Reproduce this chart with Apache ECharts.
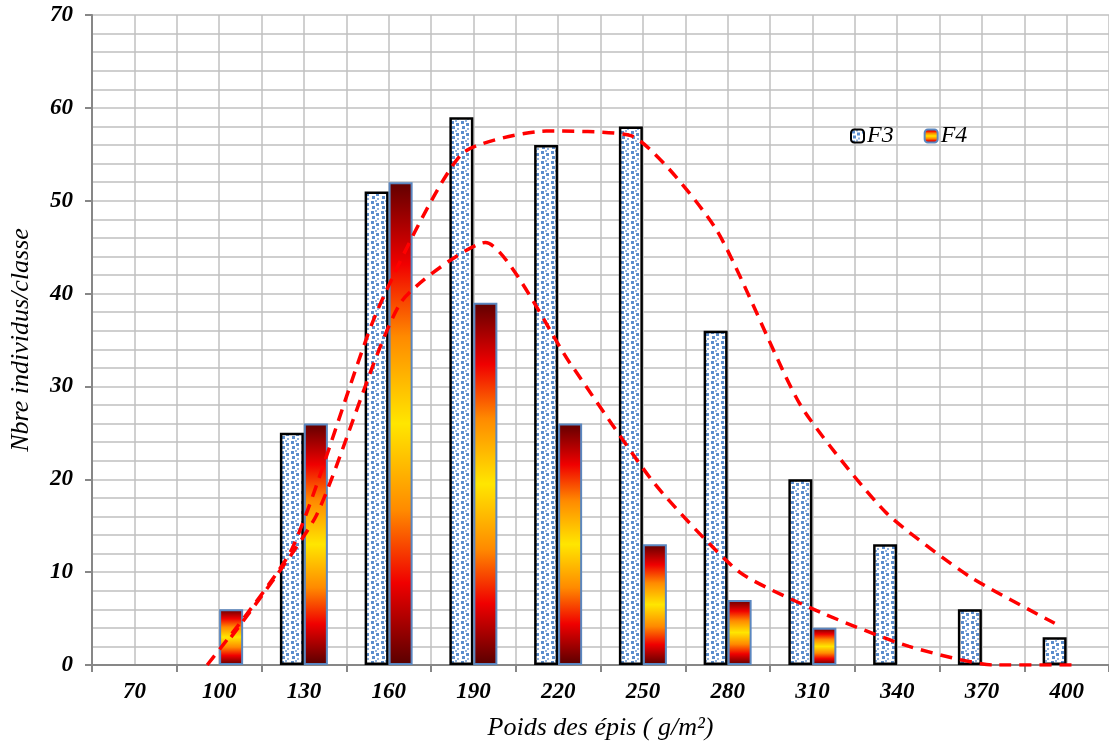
<!DOCTYPE html>
<html>
<head>
<meta charset="utf-8">
<script src="https://cdn.jsdelivr.net/npm/echarts@6/dist/echarts.min.js"></script>
<style>
html,body{margin:0;padding:0;background:#fff;}
#chart{width:1109px;height:746px;}
</style>
</head>
<body>
<div id="chart"></div>
<script>
// ---- data ----
const categories = ['70','100','130','160','190','220','250','280','310','340','370','400'];
const seriesF3 = [0, 0, 25, 51, 59, 56, 58, 36, 20, 13, 6, 3];
const seriesF4 = [0, 6, 26, 52, 39, 26, 13, 7, 4, 0, 0, 0];
// dashed trend curves (2-point moving averages)
const trendF3 = [null, 0, 12.5, 38, 55, 57.5, 57, 47, 28, 16.5, 9.5, 4.5];
const trendF4 = [null, 3, 16, 39, 45.5, 32.5, 19.5, 10, 5.5, 2, 0, 0];
const yTicks = [0, 10, 20, 30, 40, 50, 60, 70];

const FONT = '"Liberation Serif", "DejaVu Serif", serif';

// dotted pattern for F3
function makePattern(){
  const c = document.createElement('canvas');
  c.width = 10; c.height = 10;
  const g = c.getContext('2d');
  g.fillStyle = '#ffffff'; g.fillRect(0,0,10,10);
  g.fillStyle = '#5a8ccc';
  const pts = [[1,1],[6,3],[2,6]];
  pts.forEach(p => g.fillRect(p[0], p[1], 3, 3));
  g.fillStyle = '#8fb2de';
  [[7,8],[5,0]].forEach(p => g.fillRect(p[0], p[1], 2, 2));
  return c;
}
const patternFill = { image: makePattern(), repeat: 'repeat' };
const gradFill = {
  type: 'linear', x: 0, y: 0, x2: 0, y2: 1,
  colorStops: [
    {offset: 0, color: '#600000'},
    {offset: 0.17, color: '#f00000'},
    {offset: 0.32, color: '#ff8a00'},
    {offset: 0.5, color: '#ffe600'},
    {offset: 0.68, color: '#ff8a00'},
    {offset: 0.83, color: '#f00000'},
    {offset: 1, color: '#580000'}
  ]
};

const BAR_W = 24;
const catW = 1022 / categories.length;
const offs = (BAR_W / 2) / catW;

function barData(arr){
  return arr.map(v => v === 0 ? {value: 0, itemStyle: {borderWidth: 0, opacity: 0}} : v);
}
function trendData(arr, off){
  const out = [];
  arr.forEach((v, i) => { if (v !== null) out.push([i + 0.5 + off, v]); });
  return out;
}

const chart = echarts.init(document.getElementById('chart'), null, {renderer: 'canvas'});
chart.setOption({
  animation: false,
  backgroundColor: '#ffffff',
  grid: {left: 90, top: 15, width: 1022, height: 650, containLabel: false},
  legend: {
    data: ['F3', 'F4'],
    left: 845, top: 119,
    itemWidth: 13, itemHeight: 13, itemGap: 30,
    textStyle: {fontFamily: FONT, fontStyle: 'italic', fontSize: 24, color: '#000', padding: [0,0,0,-2]}
  },
  xAxis: [{
    type: 'category',
    data: categories,
    boundaryGap: true,
    axisLine: {lineStyle: {color: '#878787', width: 2}},
    axisTick: {show: true, length: 7, interval: 0, lineStyle: {color: '#878787', width: 2}},
    axisLabel: {interval: 0, margin: 16, fontFamily: FONT, fontStyle: 'italic', fontWeight: 'bold', fontSize: 23, color: '#000'},
    splitLine: {show: false},
    name: 'Poids des épis ( g/m²)',
    nameLocation: 'middle',
    nameGap: 50,
    nameTextStyle: {fontFamily: FONT, fontStyle: 'italic', fontSize: 26, color: '#000'}
  }, {
    type: 'value',
    min: 0, max: 12, interval: 0.5,
    position: 'bottom',
    axisLine: {show: false}, axisTick: {show: false}, axisLabel: {show: false},
    splitLine: {show: true, lineStyle: {color: '#c0c0c0', width: 1.5}}
  }],
  yAxis: [{
    type: 'value',
    min: 0, max: 70, interval: 10,
    axisLine: {show: true, lineStyle: {color: '#878787', width: 2}},
    axisTick: {show: true, length: 7, lineStyle: {color: '#878787', width: 2}},
    axisLabel: {margin: 19, fontFamily: FONT, fontStyle: 'italic', fontWeight: 'bold', fontSize: 23, color: '#000',
      formatter: v => yTicks.includes(v) ? String(v) : ''},
    splitLine: {show: true, lineStyle: {color: '#c0c0c0', width: 1.5}},
    minorTick: {show: false, splitNumber: 5},
    minorSplitLine: {show: true, lineStyle: {color: '#c0c0c0', width: 1.5}},
    name: 'Nbre individus/classe',
    nameLocation: 'middle',
    nameGap: 58,
    nameRotate: 90,
    nameTextStyle: {fontFamily: FONT, fontStyle: 'italic', fontSize: 26, color: '#000'}
  }],
  series: [{
    name: 'F3', type: 'bar', xAxisIndex: 0,
    barWidth: BAR_W, barGap: '0%',
    data: barData(seriesF3),
    itemStyle: {color: patternFill, borderColor: '#000000', borderWidth: 2.5},
    z: 3
  }, {
    name: 'F4', type: 'bar', xAxisIndex: 0,
    barWidth: BAR_W, barGap: '0%',
    data: barData(seriesF4),
    itemStyle: {color: gradFill, borderColor: '#5b87c0', borderWidth: 2},
    z: 3
  }, {
    name: 'trend F3', type: 'line', xAxisIndex: 1,
    data: trendData(trendF3, -offs),
    smooth: 0.2, showSymbol: false, symbol: 'none',
    lineStyle: {color: '#ff0000', width: 3.5, type: [12, 8]},
    z: 5
  }, {
    name: 'trend F4', type: 'line', xAxisIndex: 1,
    data: trendData(trendF4, offs),
    smooth: 0.2, showSymbol: false, symbol: 'none',
    lineStyle: {color: '#ff0000', width: 3.5, type: [12, 8]},
    z: 5
  }]
});
</script>
</body>
</html>
